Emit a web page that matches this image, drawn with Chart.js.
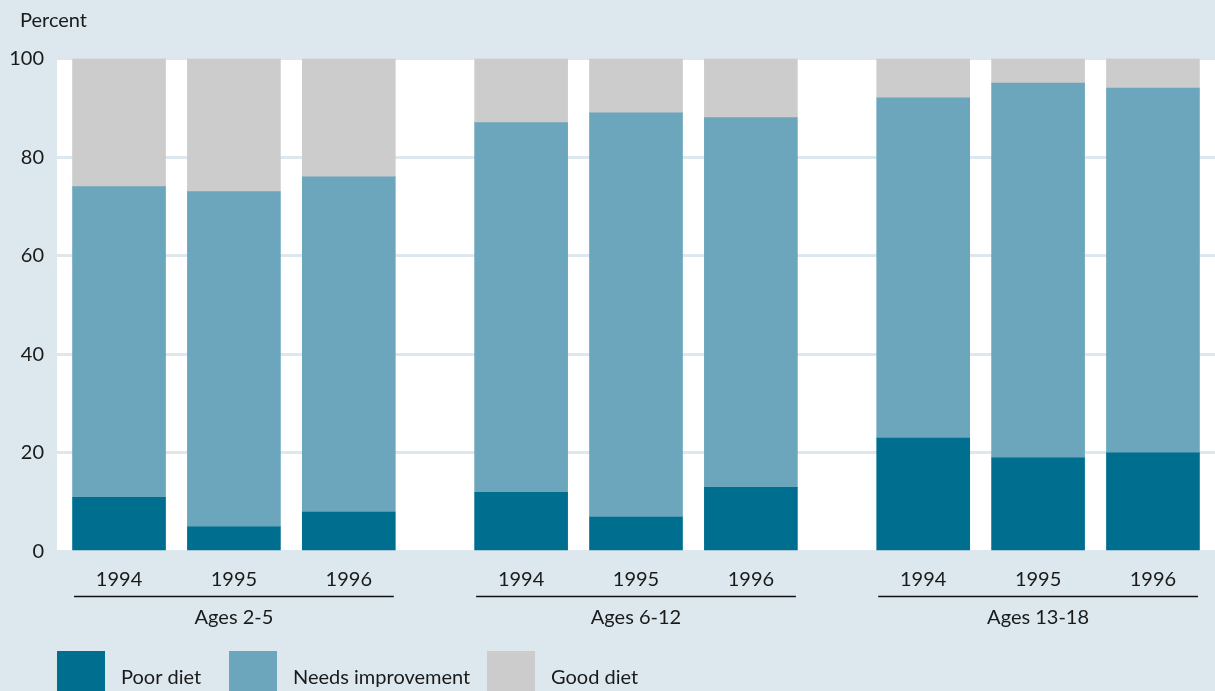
<!DOCTYPE html>
<html>
<head>
<meta charset="utf-8">
<script src="https://cdn.jsdelivr.net/npm/chart.js@4.4.1/dist/chart.umd.min.js"></script>
<style>
  html, body { margin: 0; padding: 0; background: #dce8ee; overflow: hidden; }
  #wrap { width: 1215px; height: 691px; }
</style>
</head>
<body>
<div id="wrap"><canvas id="chart" width="1215" height="691"></canvas></div>
<script>
// ---- data ----
const years = ['1994', '1995', '1996', '1994', '1995', '1996', '1994', '1995', '1996'];
const xSlots = [0, 1, 2, 3.5, 4.5, 5.5, 7, 8, 9];
const groupNames = ['Ages 2-5', 'Ages 6-12', 'Ages 13-18'];
const groupFirst = [0, 3, 6];
const groupLast = [2, 5, 8];
const poorDiet = [11, 5, 8, 12, 7, 13, 23, 19, 20];
const needsImprovement = [63, 68, 68, 75, 82, 75, 69, 76, 74];
const goodDiet = [26, 27, 24, 13, 11, 12, 8, 5, 6];
const yTicks = [0, 20, 40, 60, 80, 100];

const BG = '#dce8ee';
const TEXT = '#1a1a1a';
const FONT = 'Lato, "Open Sans", sans-serif';

const toPoints = (arr) => arr.map((v, i) => ({ x: xSlots[i], y: v }));

// white plot area, "Percent" label, group captions and the legend
const decor = {
  id: 'decor',
  beforeDraw(chart) {
    const { ctx, chartArea: a } = chart;
    ctx.save();
    ctx.fillStyle = '#ffffff';
    ctx.fillRect(a.left, a.top, a.right - a.left, a.bottom - a.top);
    ctx.restore();
  },
  afterDraw(chart) {
    const { ctx, chartArea: a } = chart;
    const xs = chart.scales.x;
    ctx.save();
    ctx.fillStyle = TEXT;
    ctx.font = '20px ' + FONT;
    ctx.textBaseline = 'middle';

    ctx.textAlign = 'left';
    ctx.fillText('Percent', 20, 21);

    // group underline + caption
    ctx.strokeStyle = '#111';
    ctx.lineWidth = 1.5;
    ctx.textAlign = 'center';
    groupNames.forEach((name, g) => {
      const x0 = xs.getPixelForValue(xSlots[groupFirst[g]]) - 45;
      const x1 = xs.getPixelForValue(xSlots[groupLast[g]]) + 45;
      const ly = a.bottom + 45;
      ctx.beginPath();
      ctx.moveTo(x0, ly);
      ctx.lineTo(x1, ly);
      ctx.stroke();
      ctx.fillText(name, (x0 + x1) / 2, a.bottom + 66);
    });

    // legend
    const legendX = [57, 229, 487];
    ctx.textAlign = 'left';
    chart.data.datasets.forEach((ds, i) => {
      ctx.fillStyle = ds.backgroundColor;
      ctx.fillRect(legendX[i], 651, 48, 60);
      ctx.fillStyle = TEXT;
      ctx.fillText(ds.label, legendX[i] + 64, 678);
    });
    ctx.restore();
  },
};

new Chart(document.getElementById('chart'), {
  type: 'bar',
  data: {
    datasets: [
      { label: 'Poor diet', data: toPoints(poorDiet), backgroundColor: '#006e8f' },
      { label: 'Needs improvement', data: toPoints(needsImprovement), backgroundColor: '#6ba6bd' },
      { label: 'Good diet', data: toPoints(goodDiet), backgroundColor: '#cccccc' },
    ],
  },
  options: {
    responsive: false,
    animation: false,
    barThickness: 93,
    layout: { padding: { top: 58.5, left: 0, right: 0, bottom: 0 } },
    plugins: { legend: { display: false }, tooltip: { enabled: false } },
    scales: {
      x: {
        type: 'linear',
        stacked: true,
        offset: false,
        min: -0.54,
        max: 9.54,
        afterBuildTicks: (s) => { s.ticks = xSlots.map((v) => ({ value: v })); },
        afterFit: (s) => { s.height = 139.5; },
        grid: { display: false },
        border: { display: false },
        ticks: {
          autoSkip: false,
          maxRotation: 0,
          padding: 8,
          color: TEXT,
          font: { family: FONT, size: 20 },
          callback: (v, i) => years[i],
        },
      },
      y: {
        stacked: true,
        min: 0,
        max: 100,
        afterBuildTicks: (s) => { s.ticks = yTicks.map((v) => ({ value: v })); },
        afterFit: (s) => { s.width = 57; },
        grid: { color: BG, lineWidth: 3, drawTicks: false },
        border: { display: false },
        ticks: {
          padding: 13,
          color: TEXT,
          font: { family: FONT, size: 20 },
        },
      },
    },
  },
  plugins: [decor],
});
</script>
</body>
</html>
